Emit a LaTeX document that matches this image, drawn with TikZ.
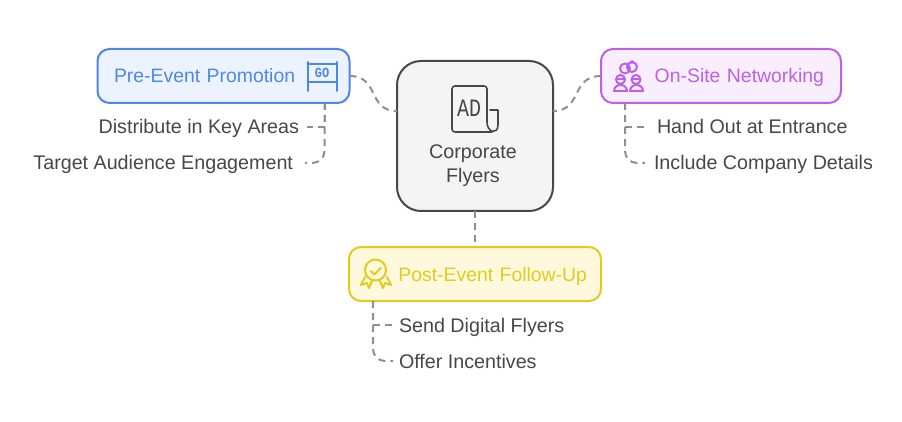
\documentclass[tikz,border=0pt]{standalone}
\usepackage{fontspec}
\usepackage{xcolor}
\usetikzlibrary{calc,positioning}
\setmainfont{Liberation Sans}
\newfontfamily\grtmono{Liberation Mono}
\definecolor{grtink}{HTML}{474747}
\definecolor{grtlink}{HTML}{8F8F8F}
\definecolor{grtblue}{HTML}{4D88E6}
\definecolor{grtbluefill}{HTML}{EDF3FE}
\definecolor{grtpurple}{HTML}{BE60E6}
\definecolor{grtpurplefill}{HTML}{F9EEFE}
\definecolor{grtyellow}{HTML}{E3CB1C}
\definecolor{grtyellowfill}{HTML}{FEF9DD}
\definecolor{grtgrey}{HTML}{F4F4F4}
\newcommand{\grtfont}{\fontsize{19.7}{24}\selectfont}
\newcommand{\grtstagefont}{\fontsize{19.4}{24}\selectfont}

\begin{document}
\begin{tikzpicture}[
    x=1pt, y=-1pt,
    nosep/.style={inner sep=0, outer sep=0},
    entry/.style={nosep, font=\grtfont, text=grtink, text height=14pt, text depth=0pt},
    stage/.style={nosep, draw, line width=2pt, rounded corners=12pt, minimum height=54pt, font=\grtstagefont, text height=14pt, text depth=0pt},
    link/.style={draw=grtlink, line width=2pt, dash pattern=on 7pt off 5pt},
    branch/.style={link, rounded corners=12pt},
    iconline/.style={line width=2pt, line cap=round, line join=round}]
\useasboundingbox (0,0) rectangle (902,422);

\node (flyers) [nosep, draw=grtink, fill=grtgrey, line width=2pt, rounded corners=24pt, minimum width=156pt, minimum height=150pt] at (475,136) {};
\node (flyerstext) [nosep, font=\grtfont, text=grtink, align=center] at (473,166) {Corporate\\Flyers};

\node (promotion) [stage, draw=grtblue, fill=grtbluefill, text=grtblue, minimum width=252pt, align=left, text width=219pt] at (223.5,76) {Pre-Event Promotion};
\node (networking) [stage, draw=grtpurple, fill=grtpurplefill, text=grtpurple, minimum width=240pt, align=right, text width=206pt] at (721,76) {On-Site Networking};
\node (followup) [stage, draw=grtyellow, fill=grtyellowfill, text=grtyellow, minimum width=252pt, align=right, text width=224pt] at (475,274) {Post-Event Follow-Up};

\node (distribute) [entry, anchor=base east] at (299,134) {Distribute in Key Areas};
\node (target) [entry, anchor=base east] at (293,170) {Target Audience Engagement};
\node (handout) [entry, anchor=base west] at (657,134) {Hand Out at Entrance};
\node (include) [entry, anchor=base west] at (654,170) {Include Company Details};
\node (send) [entry, anchor=base west] at (399,332) {Send Digital Flyers};
\node (offer) [entry, anchor=base west] at (399,368) {Offer Incentives};

\coordinate (promotiontrunk) at ([xshift=-25pt]promotion.south east);
\coordinate (networkingtrunk) at ([xshift=24pt]networking.south west);
\coordinate (followuptrunk) at ([xshift=24pt]followup.south west);

\path[link] (promotion.east) .. controls (380,76) and (367,111) .. ([yshift=25pt]flyers.west);
\path[link] (networking.west) .. controls (570,76) and (583,111) .. ([yshift=25pt]flyers.east);
\path[link] (flyers.south) -- (followup.north);

\path[link] (promotiontrunk) -- (promotiontrunk |- distribute.east) -- ([xshift=8pt]distribute.east);
\path[branch] (promotiontrunk) -- (promotiontrunk |- target.east) -- ([xshift=12pt]target.east);
\path[link] (networkingtrunk) -- (networkingtrunk |- handout.west) -- ([xshift=-12pt]handout.west);
\path[branch] (networkingtrunk) -- (networkingtrunk |- include.west) -- ([xshift=-9pt]include.west);
\path[link] (followuptrunk) -- (followuptrunk |- send.west) -- ([xshift=-6pt]send.west);
\path[branch] (followuptrunk) -- (followuptrunk |- offer.west) -- ([xshift=-6pt]offer.west);

\draw[iconline, grtblue] (307.5,62) -- (307.5,91) (336.5,62) -- (336.5,91) (307.5,64) -- (336.5,64) (307.5,82) -- (336.5,82);
\node (goicon) [nosep, text=grtblue, font=\grtmono\bfseries\fontsize{14}{14}\selectfont] at (322,72.5) {\scalebox{.85}[1]{GO}};

\draw[iconline, grtink, line width=1.6pt, rounded corners=3pt] (487,122) -- (487,86) -- (452,86) -- (452,132) -- (492,132);
\draw[iconline, grtink, line width=1.6pt] (490,110) -- (498,110) -- (498,125) .. controls (498,135) and (487,133) .. (487,122);
\node (adicon) [nosep, text=grtink, font=\grtmono\fontsize{25}{25}\selectfont] at (469,108) {\scalebox{.8}[1]{AD}};

\draw[iconline, grtpurple] (625,68.5) circle (5) (632,67) circle (5) (632,62) circle (1);
\draw[iconline, grtpurple] (620.5,79.5) circle (4.5) (636,79.5) circle (4.5);
\draw[iconline, grtpurple, line width=1.4pt] (616,79) -- (625,79) (631.5,79) -- (640.5,79);
\draw[iconline, grtpurple] (614,91) .. controls (614,83) and (627,83) .. (627,91) -- cycle;
\draw[iconline, grtpurple] (630,91) .. controls (630,83) and (643,83) .. (643,91) -- cycle;

\draw[iconline, grtyellow] (375.5,270) circle (10.5);
\draw[iconline, grtyellow] (370.5,271) -- (374.5,274.5) -- (381,267.5);
\draw[iconline, grtyellow] (365,277) -- (361,285) -- (367,283) -- (369,288) -- (372,281);
\draw[iconline, grtyellow] (387,277) -- (391,285) -- (385,283) -- (383,288) -- (380,281);
\end{tikzpicture}
\end{document}
